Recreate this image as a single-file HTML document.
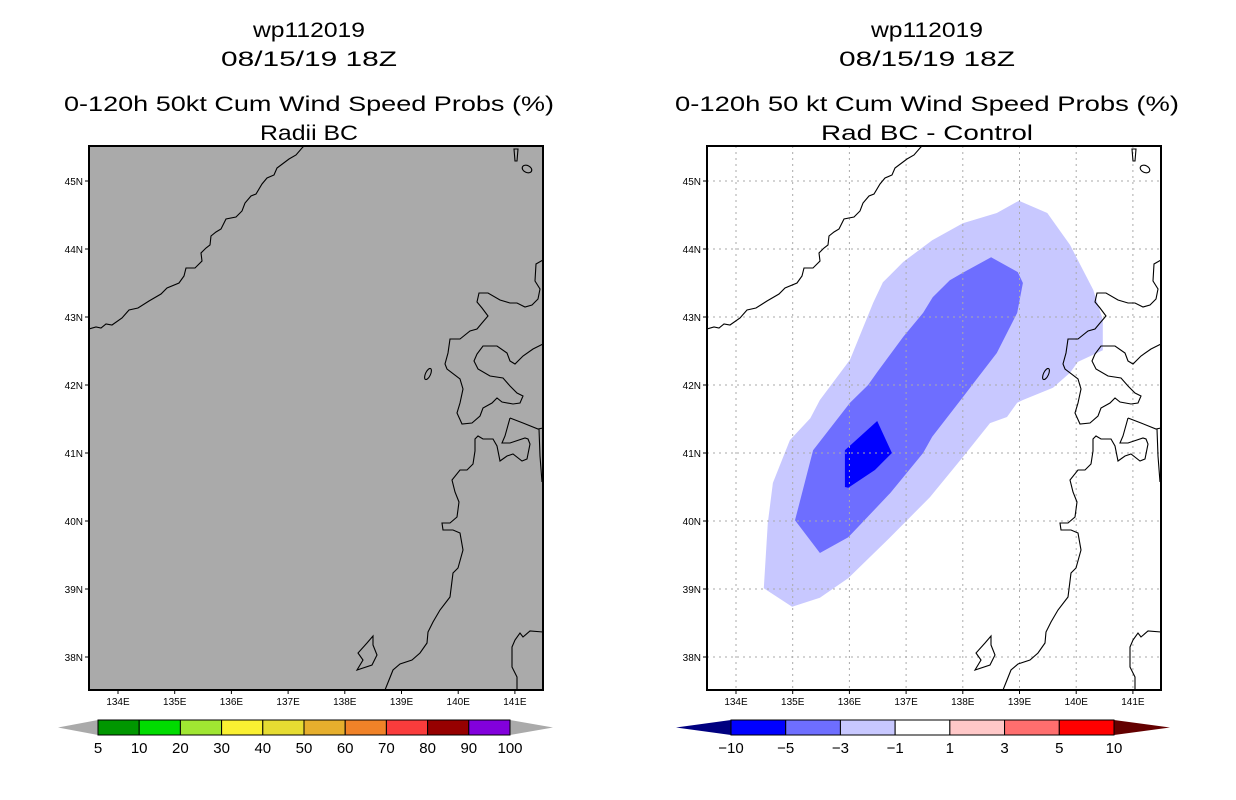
<!DOCTYPE html>
<html><head><meta charset="utf-8"><style>
html,body{margin:0;padding:0;background:#fff;}
svg{display:block;font-family:"Liberation Sans",sans-serif;}
</style></head><body>
<svg id="root" width="1236" height="800" viewBox="0 0 1236 800" xmlns="http://www.w3.org/2000/svg">
<g id="titles"></g>
<g id="leftMap"></g>
<g id="rightMap"></g>
<g id="leftBar"></g>
<g id="rightBar"></g>
</svg>
<script>
const lonTicks = [134,135,136,137,138,139,140,141];
const latTicks = [38,39,40,41,42,43,44,45];
const probLevels = ["5","10","20","30","40","50","60","70","80","90","100"];
const probColors = ["#009600","#00dc00","#a0e632","#faf032","#e6dc32","#e6af2d","#f08228","#fa3c3c","#960000","#8200dc"];
const diffLevels = ["\u221210","\u22125","\u22123","\u22121","1","3","5","10"];
const diffColors = ["#0000ff","#6e6eff","#c8c8ff","#ffffff","#ffc8c8","#ff6e6e","#ff0000"];
const diffLight = [[134.49,39.01],[134.99,38.74],[135.48,38.87],[135.98,39.16],[136.72,39.76],[137.42,40.35],[138.00,40.94],[138.48,41.44],[138.78,41.53],[138.96,41.74],[139.06,41.78],[139.59,41.96],[139.89,42.18],[140.03,42.34],[140.47,42.51],[140.47,42.96],[140.30,43.40],[139.89,44.06],[139.49,44.53],[138.99,44.71],[138.60,44.53],[138.00,44.38],[137.46,44.13],[136.95,43.81],[136.59,43.51],[136.42,43.21],[136.01,42.37],[135.48,41.78],[135.31,41.51],[134.95,41.19],[134.65,40.56],[134.56,39.97]];
const diffMid = [[135.04,40.01],[135.48,39.53],[135.98,39.76],[136.72,40.41],[137.30,41.00],[137.46,41.24],[138.00,41.82],[138.60,42.47],[138.96,43.06],[139.06,43.50],[138.97,43.66],[138.50,43.88],[138.00,43.65],[137.77,43.54],[137.47,43.29],[137.30,43.06],[136.95,42.71],[136.49,42.19],[136.33,42.00],[136.01,41.74],[135.36,41.04]];
const diffDark = [[135.92,41.04],[136.49,41.47],[136.75,41.00],[136.45,40.75],[135.98,40.49],[135.92,40.50]];

const NS="http://www.w3.org/2000/svg";
function mk(tag, attrs, parent){const e=document.createElementNS(NS,tag);for(const k in attrs)e.setAttribute(k,attrs[k]);parent.appendChild(e);return e;}
const W=454,H=544;
function xs(lon){return (118-89)+(lon-134)*56.7;}
function ys(lat){return (181-146)+(45-lat)*68;}

const coastPaths=[
"M0,183 L7,181 L12,182 L17,178 L23,179 L33,172 L40,164 L49,162 L60,155 L72,148 L78,142 L90,137 L95,130 L97,122 L106,122 L113,115 L112,107 L117,102 L121,99 L122,90 L127,86 L132,83 L137,73 L147,71 L153,65 L156,57 L162,50 L167,48 L173,38 L178,32 L185,29 L188,22 L200,13 L207,9 L213,2 L215,0",
"M425,3 L429,3 L428,15 L426,15 Z",
"M454,114 L447,118 L446,135 L451,143 L449,153 L443,159 L436,161 L428,157 L421,157 L411,154 L399,147 L390,147 L388,156 L393,162 L399,170 L393,177 L388,183 L381,185 L371,193 L361,193 L359,207 L356,218 L358,223 L371,233 L374,243 L371,257 L368,267 L373,278 L383,277 L391,270 L394,262 L403,257 L408,252 L413,256 L424,258 L431,257 L434,250 L428,247 L421,240 L414,232 L401,230 L389,223 L385,215 L388,208 L394,200 L408,200 L418,207 L421,215 L426,218 L434,210 L444,203 L454,198",
"M421,272 L434,277 L449,283 L454,282 M421,272 L416,290 L413,297 L421,297 L436,292 L439,293 L441,298 L438,313 L433,315 L424,308 L418,310 L411,315 L408,300 L404,293 L394,293 L389,290 L386,293 L386,305 L384,318 L378,324 L371,324 L363,334 L366,346 L370,356 L368,371 L361,377 L353,377 L354,384 L364,384 L371,387 L374,404 L369,422 L364,427 L361,451 L351,464 L344,476 L339,486 L338,497 L331,507 L323,514 L311,518 L304,524 L300,534 L296,544",
"M450,283 L451,310 L453,336",
"M428,544 L428,531 L423,521 L423,501 L426,494 L431,487 L434,491 L441,485 L454,486",
"M268,524 L274,514 L269,507 L278,497 L284,490 L284,499 L288,509 L283,519 Z"
];

function drawMap(g, ox, oy, gray, fills){
  g.setAttribute('transform','translate('+ox+','+oy+')');
  const bg=mk('rect',{x:0,y:0,width:W,height:H,fill:gray?'#aaaaaa':'#ffffff'},g);
  
  
  const clip=mk('clipPath',{id:'clip'+ox},g);
  mk('rect',{x:0,y:0,width:W,height:H},clip);
  const inner=mk('g',{'clip-path':'url(#clip'+ox+')'},g);
  if(fills){
    fills.forEach(f=>{
      const p=mk('polygon',{points:f.data.map(d=>xs(d[0]).toFixed(1)+','+ys(d[1]).toFixed(1)).join(' '),fill:f.color},inner);
      
      
    });
    lonTicks.forEach(l=>{
      const ln=mk('line',{x1:xs(l),x2:xs(l),y1:0,y2:H,stroke:'#aaaaaa','stroke-width':1,'stroke-dasharray':'2,4'},inner);
      
      
    });
    latTicks.forEach(l=>{
      const ln=mk('line',{x1:0,x2:W,y1:ys(l),y2:ys(l),stroke:'#aaaaaa','stroke-width':1,'stroke-dasharray':'2,4'},inner);
      
      
    });
  }
  coastPaths.forEach(d=>{
    const p=mk('path',{d:d,fill:'none',stroke:'#000','stroke-width':1.1},inner);
    
    
  });
  mk('ellipse',{cx:438,cy:23,rx:5,ry:3.5,fill:'none',stroke:'#000','stroke-width':1.1,transform:'rotate(25 438 23)'},inner);
  mk('ellipse',{cx:339,cy:228,rx:2.5,ry:6,fill:'none',stroke:'#000','stroke-width':1.1,transform:'rotate(25 339 228)'},inner);
  const fr=mk('rect',{x:0,y:0,width:W,height:H,fill:'none',stroke:'#000','stroke-width':2},g);
  
  
  lonTicks.forEach(l=>{
    mk('line',{x1:xs(l),x2:xs(l),y1:H,y2:H+4,stroke:'#000'},g);
    const t=mk('text',{x:xs(l),y:H+15,'font-size':10,'text-anchor':'middle'},g);
    t.textContent=l+'E';
    
    
  });
  latTicks.forEach(l=>{
    mk('line',{x1:-4,x2:0,y1:ys(l),y2:ys(l),stroke:'#000'},g);
    const t=mk('text',{x:-6,y:ys(l)+4,'font-size':10,'text-anchor':'end'},g);
    t.textContent=l+'N';
    
    
  });
}
drawMap(document.getElementById('leftMap'),89,146,true,null);
drawMap(document.getElementById('rightMap'),707,146,false,[
  {data:diffLight,color:'#c8c8ff',name:'contour-minus1-to-minus3'},
  {data:diffMid,color:'#6e6eff',name:'contour-minus3-to-minus5'},
  {data:diffDark,color:'#0000ff',name:'contour-minus5-to-minus10'}]);

function title(x,y,txt,len,name){
  const t=mk('text',{x:x,y:y,'font-size':21,'text-anchor':'middle',textLength:len,lengthAdjust:'spacingAndGlyphs'},document.getElementById('titles'));
  t.textContent=txt;
  
  
}
title(309,37,'wp112019',112,'left-storm-id');
title(309,66,'08/15/19 18Z',176,'left-date');
title(309,111,'0-120h 50kt Cum Wind Speed Probs (%)',490,'left-title');
title(309,140,'Radii BC',98,'left-subtitle');
title(927,37,'wp112019',112,'right-storm-id');
title(927,66,'08/15/19 18Z',176,'right-date');
title(927,111,'0-120h 50 kt Cum Wind Speed Probs (%)',504,'right-title');
title(927,140,'Rad BC - Control',212,'right-subtitle');

function bar(g, x0, x1, boxL, boxR, colors, labels, triL, triR){
  const y0=720,y1=735,ym=727.5,n=colors.length,bw=(boxR-boxL)/n;
  mk('polygon',{points:x0+','+ym+' '+boxL+','+y0+' '+boxL+','+y1,fill:triL},g);
  mk('polygon',{points:x1+','+ym+' '+boxR+','+y0+' '+boxR+','+y1,fill:triR},g);
  colors.forEach((c,i)=>{
    const r=mk('rect',{x:boxL+i*bw,y:y0,width:bw,height:y1-y0,fill:c,stroke:'#000','stroke-width':1},g);
    
    
  });
  labels.forEach((l,i)=>{
    const t=mk('text',{x:boxL+i*bw,y:753,'font-size':15,'text-anchor':'middle'},g);
    t.textContent=l;
    
    
  });
}
bar(document.getElementById('leftBar'),58,553,98,510,probColors,probLevels,'#aaaaaa','#aaaaaa');
bar(document.getElementById('rightBar'),676,1170,731,1114,diffColors,diffLevels,'#000080','#640000');
</script>
</body></html>
